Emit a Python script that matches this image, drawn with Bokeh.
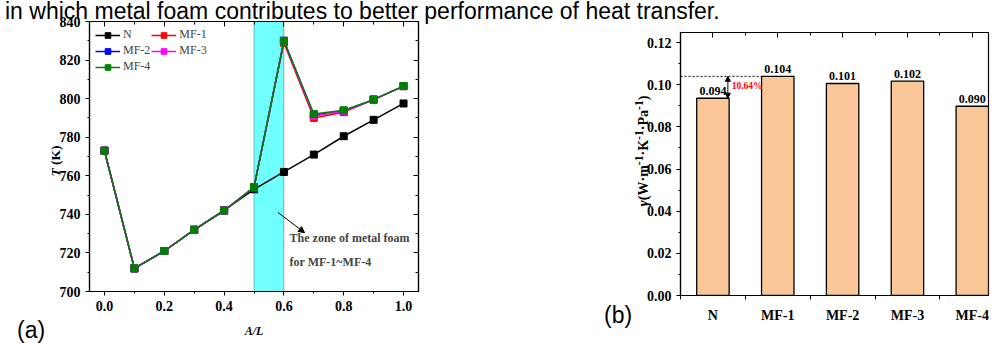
from bokeh.plotting import figure
from bokeh.models import (BoxAnnotation, Label, Arrow, NormalHead, Range1d,
                          SingleIntervalTicker, FixedTicker, LinearAxis,
                          NumeralTickFormatter, Div)
from bokeh.embed import file_html
from bokeh.resources import INLINE

# ---------------- data (a) ----------------
x_pos = [0.0, 0.1, 0.2, 0.3, 0.4, 0.5, 0.6, 0.7, 0.8, 0.9, 1.0]
T_N   = [773, 712, 721, 732, 742, 753, 762, 771, 780.5, 789, 797.5]
T_MF1 = [773, 712, 721, 732, 742, 754, 829, 790, 793, 799.5, 806.5]
T_MF2 = [773, 712, 721, 732, 742, 754, 830, 791.5, 793.5, 799.5, 806.5]
T_MF3 = [773, 712, 721, 732, 742, 754, 830, 791, 793.5, 799.5, 806.5]
T_MF4 = [773, 712, 721, 732, 742, 754, 830, 792, 794, 799.5, 806.5]
series_names = ["N", "MF-1", "MF-2", "MF-3", "MF-4"]
series_colors = ["black", "red", "blue", "magenta", "green"]
foam_zone = (0.5, 0.6)

# ---------------- data (b) ----------------
cats = ["N", "MF-1", "MF-2", "MF-3", "MF-4"]
gamma = [0.0936, 0.1040, 0.1006, 0.1017, 0.0898]

SERIF = "Liberation Serif"
SANS = "Liberation Sans"
TICK_FS = "14px"

# ---------------- figure (a) ----------------
p1 = figure(width=590, height=343, output_backend="svg", toolbar_location=None,
            x_range=Range1d(-0.05, 1.05), y_range=Range1d(700, 840),
            min_border_left=89, min_border_right=172, min_border_top=21, min_border_bottom=52,
            styles={"position": "absolute", "left": "0px", "top": "0px"})
p1.xgrid.visible = False
p1.ygrid.visible = False
p1.outline_line_color = "black"
p1.outline_line_width = 1.2

p1.add_layout(BoxAnnotation(left=foam_zone[0], right=foam_zone[1], fill_color="#70FFFF",
                            fill_alpha=1.0, line_color="black", line_width=1, level="underlay"))

for name, ys, col in zip(series_names, [T_N, T_MF1, T_MF2, T_MF3, T_MF4], series_colors):
    p1.line(x_pos, ys, line_color=col, line_width=1.5, legend_label=name)
    p1.scatter(x_pos, ys, marker="square", size=7, fill_color=col, line_color=col, legend_label=name)

def style_axis(ax, fs=TICK_FS):
    ax.major_label_text_font = SERIF
    ax.major_label_text_font_style = "bold"
    ax.major_label_text_font_size = fs
    ax.major_label_text_color = "black"
    ax.axis_line_color = "black"
    ax.axis_line_width = 1.2
    ax.major_tick_line_color = "black"
    ax.minor_tick_line_color = "black"
    ax.major_tick_in = 0
    ax.major_tick_out = 4
    ax.minor_tick_in = 0
    ax.minor_tick_out = 2
    ax.axis_label_text_font = SERIF
    ax.axis_label_text_font_size = "12px"
    ax.axis_label_text_color = "black"

p1.xaxis.ticker = SingleIntervalTicker(interval=0.2, num_minor_ticks=2)
p1.xaxis.formatter = NumeralTickFormatter(format="0.0")
p1.yaxis.ticker = SingleIntervalTicker(interval=20, num_minor_ticks=2)
style_axis(p1.xaxis[0])
style_axis(p1.yaxis[0])
p1.xaxis.axis_label = "A/L"
p1.xaxis.axis_label_text_font_style = "bold italic"
p1.xaxis.axis_label_standoff = 10
p1.xaxis.major_label_standoff = 5

def inner_axis(ticker):
    ax = LinearAxis(ticker=ticker)
    ax.major_label_text_font_size = "0px"
    ax.major_label_standoff = 0
    ax.axis_line_color = "black"
    ax.axis_line_width = 1.2
    ax.major_tick_in = 5
    ax.major_tick_out = 0
    ax.minor_tick_in = 3
    ax.minor_tick_out = 0
    ax.major_tick_line_color = "black"
    ax.minor_tick_line_color = "black"
    return ax

p1.add_layout(inner_axis(SingleIntervalTicker(interval=0.2, num_minor_ticks=2)), "above")
p1.add_layout(inner_axis(SingleIntervalTicker(interval=20, num_minor_ticks=2)), "right")

lg = p1.legend[0]
lg.location = "top_left"
lg.orientation = "horizontal"
lg.ncols = 2
lg.margin = 6
lg.padding = 6
lg.spacing = 1
lg.glyph_width = 25
lg.glyph_height = 14
lg.label_height = 14
lg.label_standoff = 3
lg.label_text_font = SERIF
lg.label_text_font_size = "12px"
lg.border_line_color = None
lg.background_fill_alpha = 0

p1.add_layout(Arrow(end=NormalHead(size=6, fill_color="black", line_color="black"),
                    x_start=0.58, y_start=741, x_end=0.669, y_end=730.5,
                    line_color="black", line_width=1))
p1.add_layout(Label(x=0.619, y=727.9, text="The zone of  metal foam", text_baseline="middle",
                    text_font=SERIF, text_font_style="bold", text_font_size="12px"))
p1.add_layout(Label(x=0.619, y=715.5, text="for MF-1~MF-4", text_baseline="middle",
                    text_font=SERIF, text_font_style="bold", text_font_size="12px"))

# ---------------- figure (b) ----------------
idx = [i + 1 for i in range(len(cats))]
bar_w = 0.5
p2 = figure(width=403, height=343, output_backend="svg", toolbar_location=None,
            x_range=Range1d(0.5, 5.25), y_range=Range1d(0, 0.1248),
            min_border_left=90, min_border_right=5, min_border_top=32, min_border_bottom=48,
            styles={"position": "absolute", "left": "590px", "top": "0px"})
p2.xgrid.visible = False
p2.ygrid.visible = False
p2.outline_line_color = "black"
p2.outline_line_width = 1.2

p2.vbar(x=idx, top=gamma, width=bar_w, fill_color="#FAC898", line_color="black", line_width=1.3)
p2.text(x=idx, y=gamma, text=["%.3f" % g for g in gamma], text_align="center",
        text_baseline="bottom", y_offset=-3, text_font_size="12px",
        text_font_style="bold", text_font={"value": SERIF}, text_color="black")

# reference dotted line and increase arrow
p2.segment(x0=[p2.x_range.start], y0=[gamma[1]], x1=[idx[1] - bar_w / 2], y1=[gamma[1]],
           line_color="black", line_width=1, line_dash="2 2")
arr_x = idx[0] + bar_w / 2 - 0.02
p2.add_layout(Arrow(start=NormalHead(size=5, fill_color="black", line_color="black"),
                    end=NormalHead(size=5, fill_color="black", line_color="black"),
                    x_start=arr_x, y_start=gamma[0], x_end=arr_x, y_end=gamma[1],
                    line_color="#333333", line_width=1.2))
r0 = round(gamma[0], 3)
r1 = round(gamma[1], 3)
pct = (r1 - r0) / r0 * 100
p2.add_layout(Label(x=arr_x + 0.06, y=(gamma[0] + gamma[1]) / 2 + 0.0005, text="%.2f%%" % pct,
                    text_baseline="middle", text_color="red", text_font=SERIF,
                    text_font_style="bold", text_font_size="9.5px"))

p2.xaxis.ticker = FixedTicker(ticks=idx, minor_ticks=[i + 0.5 for i in [0] + idx])
p2.xaxis.major_label_overrides = {i: c for i, c in zip(idx, cats)}
style_axis(p2.xaxis[0])
p2.xaxis.major_tick_out = 0
p2.xaxis.minor_tick_out = 4
p2.xaxis.major_label_standoff = 8

p2.yaxis.ticker = SingleIntervalTicker(interval=0.02, num_minor_ticks=2)
p2.yaxis.formatter = NumeralTickFormatter(format="0.00")
style_axis(p2.yaxis[0])
p2.add_layout(inner_axis(FixedTicker(ticks=idx, minor_ticks=[i + 0.5 for i in [0] + idx])), "above")

# ---------------- overlay texts (page heading, panel letters, y labels) ----------------
serif_b = "font-family:'Liberation Serif'; font-weight:bold; color:black; white-space:nowrap;"
sans = "font-family:'Liberation Sans'; color:black; white-space:nowrap; font-size:23px; line-height:23px;"
overlay_html = (
    '<div style="position:relative; width:993px; height:343px;">'
    '<div style="position:absolute; left:0px; top:-5px; ' + sans + '">'
    'in which metal foam contributes to better performance of heat transfer.</div>'
    '<div style="position:absolute; left:12px; top:314px; ' + sans + '">(a)</div>'
    '<div style="position:absolute; left:599px; top:299px; ' + sans + '">(b)</div>'
    '<div style="position:absolute; left:51px; top:156px; transform:translate(-50%,-50%) rotate(-90deg);'
    ' font-size:13.5px; line-height:14px; ' + serif_b + '"><i>T</i> (K)</div>'
    '<div style="position:absolute; left:637px; top:146px; transform:translate(-50%,-50%) rotate(-90deg);'
    ' font-size:14px; line-height:16px; ' + serif_b + '"><i style="font-size:15px;">γ</i>(W·m<sup>-1</sup>·K<sup>-1</sup>·Pa<sup>-1</sup>)</div>'
    '</div>'
)
overlay = Div(text=overlay_html, width=993, height=343,
              styles={"position": "absolute", "top": "0px", "left": "0px", "overflow": "visible",
                      "z-index": "5", "pointer-events": "none"})

open("out.html", "w").write(file_html([p1, p2, overlay], INLINE))
